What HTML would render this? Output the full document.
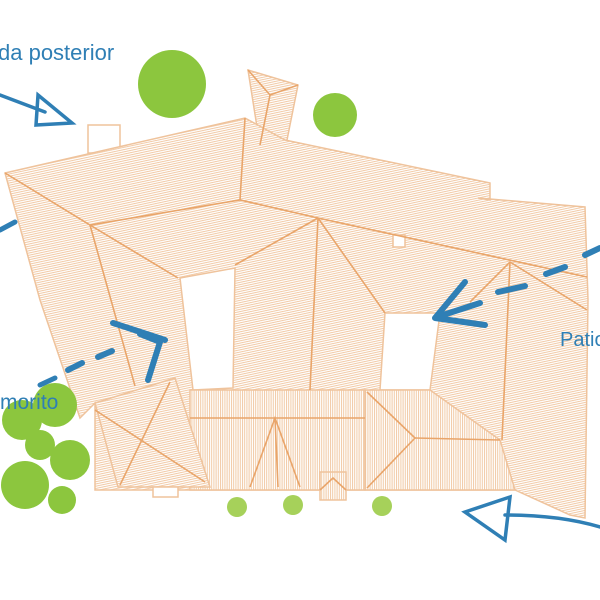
<!DOCTYPE html><html><head><style>body{margin:0;background:#fff}svg{display:block}text{font-family:"Liberation Sans",sans-serif;fill:#2f7fb5}</style></head><body>
<svg width="600" height="600" viewBox="0 0 600 600">
<defs><pattern id="h" width="4" height="2.2" patternUnits="userSpaceOnUse" patternTransform="rotate(-12)"><rect width="4" height="2.2" fill="#fff"/><rect width="4" height="1" fill="#f1c9a5"/></pattern>
<pattern id="v" width="2.2" height="4" patternUnits="userSpaceOnUse"><rect width="2.2" height="4" fill="#fff"/><rect width="1" height="4" fill="#f1c9a5"/></pattern></defs>
<g stroke="#efc39c" stroke-width="1.5">
<rect x="88" y="125" width="32" height="28" fill="#fff"/>
<polygon fill="url(#h)" points="248,70 298,85 287,140 260,146"/>
<polygon fill="url(#h)" points="5,173 245,118 285,140 490,183 490,200 478,198 585,207 588,300 585,518 570,515 515,490 95,490 95,403 80,418 40,300"/>
<polygon fill="#fff" points="180,278 235,268 233,388 193,390"/>
<polygon fill="#fff" points="385,313 440,313 430,390 380,390"/>
<polygon fill="url(#v)" points="190,390 365,390 365,490 190,490"/>
<polygon fill="url(#h)" points="95,403 175,378 210,487 118,487"/>
<polygon fill="url(#v)" points="365,390 430,390 500,440 515,490 365,490"/>
<rect x="320" y="472" width="26" height="28" fill="url(#v)"/>
<rect x="393" y="235" width="12" height="12" fill="#fff"/>
<rect x="153" y="487" width="25" height="10" fill="#fff"/>
</g>
<g stroke="#e9a56a" stroke-width="1.6" fill="none">
<polyline points="5,173 90,225 240,200 318,218 587,277"/>
<line x1="240" y1="200" x2="245" y2="118"/>
<line x1="90" y1="225" x2="135" y2="386"/>
<line x1="90" y1="225" x2="178" y2="278"/>
<line x1="318" y1="218" x2="235" y2="265"/>
<line x1="318" y1="218" x2="310" y2="390"/>
<line x1="318" y1="218" x2="385" y2="313"/>
<line x1="510" y1="262" x2="587" y2="310"/>
<line x1="510" y1="262" x2="470" y2="302"/>
<line x1="510" y1="262" x2="502" y2="440"/>
<line x1="190" y1="418" x2="365" y2="418"/>
<polyline points="250,487 275,418 300,487"/><line x1="275" y1="418" x2="278" y2="487"/>
<line x1="95" y1="410" x2="205" y2="482"/><line x1="120" y1="485" x2="170" y2="382"/>
<line x1="367" y1="392" x2="415" y2="438"/><line x1="367" y1="488" x2="415" y2="438"/><line x1="415" y1="438" x2="500" y2="440"/>
<polyline points="248,70 270,95 298,85"/><line x1="270" y1="95" x2="260" y2="145"/>
<polyline points="320,490 333,478 346,490"/>
</g>
<g fill="#8cc63e"><circle cx="172" cy="84" r="34"/><circle cx="335" cy="115" r="22"/>
<circle cx="22" cy="420" r="20"/><circle cx="55" cy="405" r="22"/><circle cx="70" cy="460" r="20"/><circle cx="25" cy="485" r="24"/><circle cx="40" cy="445" r="15"/><circle cx="62" cy="500" r="14"/>
<circle cx="237" cy="507" r="10" fill="#a6d15a"/><circle cx="293" cy="505" r="10" fill="#a6d15a"/><circle cx="382" cy="506" r="10" fill="#a6d15a"/></g>
<g fill="none" stroke="#2f7fb5" stroke-width="3.5" stroke-linecap="round">
<line x1="0" y1="95" x2="45" y2="112"/><polygon points="38,95 72,123 36,125"/>
<path d="M600 527 Q560 515 505 515"/><polygon points="465,512 510,497 505,540"/>
<path d="M113 323 L165 340 M140 334 L160 342 L148 380" stroke-width="6"/>
<path d="M68 370 L82 363 M98 357 L112 351" stroke-width="6"/>
<path d="M40 385 L55 378 M0 230 L15 222" stroke-width="5"/>
<path d="M435 318 L465 282 M435 318 L485 325 M440 316 L480 303 M498 292 L525 286 M546 274 L565 267 M585 255 L600 248" stroke-width="6"/>
</g>
<text x="-2" y="60" font-size="22">da posterior</text>
<text x="560" y="346" font-size="20">Patio</text>
<text x="0" y="409" font-size="21">morito</text>
</svg></body></html>
